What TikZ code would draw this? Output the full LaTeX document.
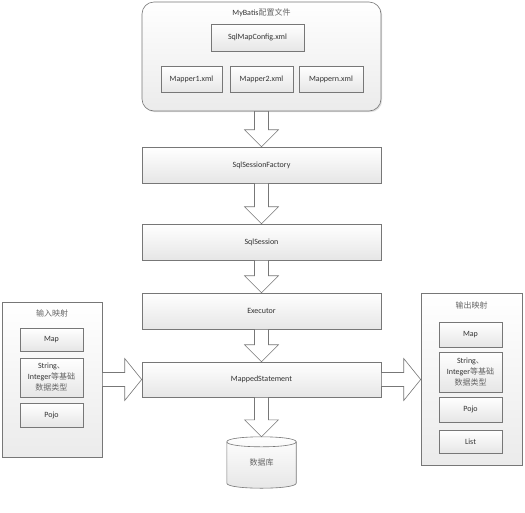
\documentclass[tikz,border=0pt]{standalone}
\usepackage{fontspec}
\setmainfont{Carlito}
\newfontfamily\cjk{Noto Sans CJK SC}
\usetikzlibrary{shadows,calc,backgrounds}
\definecolor{bordc}{HTML}{777777}
\definecolor{txtc}{HTML}{333333}
\definecolor{fillc}{HTML}{E6E6E6}
\definecolor{cjkc}{HTML}{666666}
\newcommand\cj[1]{{\cjk\color{cjkc}#1}}
\newcommand\varrow[2]{\path[blockarrow] let \p1=(#1.south), \p2=(#2.north) in
  (\x1-7pt,\y1) -- (\x1-7pt,\y2+17pt) -- (\x1-17pt,\y2+17pt) -- (\x1,\y2) --
  (\x1+17pt,\y2+17pt) -- (\x1+7pt,\y2+17pt) -- (\x1+7pt,\y1) -- cycle;}
\newcommand\harrow[2]{\path[blockarrow] let \p1=(#1.east), \p2=(#2.west) in
  (\x1,\y1+7pt) -- (\x2-17pt,\y1+7pt) -- (\x2-17pt,\y1+21pt) -- (\x2,\y1) --
  (\x2-17pt,\y1-21pt) -- (\x2-17pt,\y1-7pt) -- (\x1,\y1-7pt) -- cycle;}
\begin{document}
\begin{tikzpicture}[x=1pt,y=-1pt,
  every node/.style={font=\fontsize{8}{11}\selectfont, text=txtc, inner sep=0pt},
  box/.style={draw=bordc, line width=0.6pt, top color=white, bottom color=fillc,
    drop shadow={shadow xshift=1.2pt, shadow yshift=-1.2pt, opacity=0.25},
    align=center},
  container/.style={box, top color=white, bottom color=fillc!80},
  title/.style={font=\fontsize{8}{10}\selectfont},
  blockarrow/.style={draw=bordc, fill=white, line width=0.6pt, line join=miter},
  cyl/.style={draw=bordc, line width=0.6pt, top color=white, bottom color=fillc},
  dbnode/.style={minimum width=69pt, minimum height=51pt}
]
\useasboundingbox (0,0) rectangle (525,512);
\begin{scope}[on background layer]
\fill[white] (0,0) rectangle (525,512);
\end{scope}

% top container
\node[container, rounded corners=12pt, minimum width=239pt, minimum height=109pt] (cfg) at (261.5,56.5) {};
\node[title] (cfgtitle) at (261.5,13) {MyBatis\cj{配置文件}};
\node[box, minimum width=93pt, minimum height=27pt] (smc) at (257.5,37.5) {SqlMapConfig.xml};
\node[box, minimum width=61pt, minimum height=26pt] (m1) at (191.5,79) {Mapper1.xml};
\node[box, minimum width=63pt, minimum height=26pt] (m2) at (261.5,79) {Mapper2.xml};
\node[box, minimum width=64pt, minimum height=26pt] (mn) at (331,79) {Mappern.xml};

% chain
\node[box, minimum width=239pt, minimum height=36pt] (fac) at (261.5,165) {SqlSessionFactory};
\node[box, minimum width=239pt, minimum height=36pt] (ses) at (261.5,242) {SqlSession};
\node[box, minimum width=239pt, minimum height=36pt] (exe) at (261.5,311) {Executor};
\node[box, minimum width=239pt, minimum height=35pt] (ms) at (261.5,379.5) {MappedStatement};

% database
\node[dbnode] (db) at (261.5,462.5) {\cj{数据库}};
\begin{scope}[on background layer]
\path[cyl] ($(db.north west)+(0,5)$) -- ($(db.south west)+(0,-5)$)
  .. controls ($(db.south west)+(0,1.67)$) and ($(db.south east)+(0,1.67)$) .. ($(db.south east)+(0,-5)$)
  -- ($(db.north east)+(0,5)$)
  .. controls ($(db.north east)+(0,-1.67)$) and ($(db.north west)+(0,-1.67)$) .. cycle;
\draw[bordc, line width=0.6pt] ($(db.north west)+(0,5)$)
  .. controls ($(db.north west)+(0,11.67)$) and ($(db.north east)+(0,11.67)$) .. ($(db.north east)+(0,5)$);
\end{scope}

% input mapping
\node[container, minimum width=100pt, minimum height=155pt] (in) at (52,379.5) {};
\node[title] (intitle) at (52,313) {\cj{输入映射}};
\node[box, minimum width=63pt, minimum height=23pt] (imap) at (51.5,339.5) {Map};
\node[box, minimum width=63pt, minimum height=39pt] (istr) at (51.5,377.5) {String\cj{、}\\Integer\cj{等基础}\\\cj{数据类型}};
\node[box, minimum width=63pt, minimum height=24pt] (ipojo) at (51.5,415) {Pojo};

% output mapping
\node[container, minimum width=101pt, minimum height=172pt] (out) at (471.5,379) {};
\node[title] (outtitle) at (471.5,305) {\cj{输出映射}};
\node[box, minimum width=63pt, minimum height=25pt] (omap) at (470.5,334.5) {Map};
\node[box, minimum width=63pt, minimum height=40pt] (ostr) at (470.5,372) {String\cj{、}\\Integer\cj{等基础}\\\cj{数据类型}};
\node[box, minimum width=63pt, minimum height=25pt] (opojo) at (470.5,409.5) {Pojo};
\node[box, minimum width=63pt, minimum height=23pt] (olist) at (470.5,441.5) {List};

% block arrows
\varrow{cfg}{fac}
\varrow{fac}{ses}
\varrow{ses}{exe}
\varrow{exe}{ms}
\varrow{ms}{db}
\harrow{in}{ms}
\harrow{ms}{out}
\end{tikzpicture}
\end{document}
